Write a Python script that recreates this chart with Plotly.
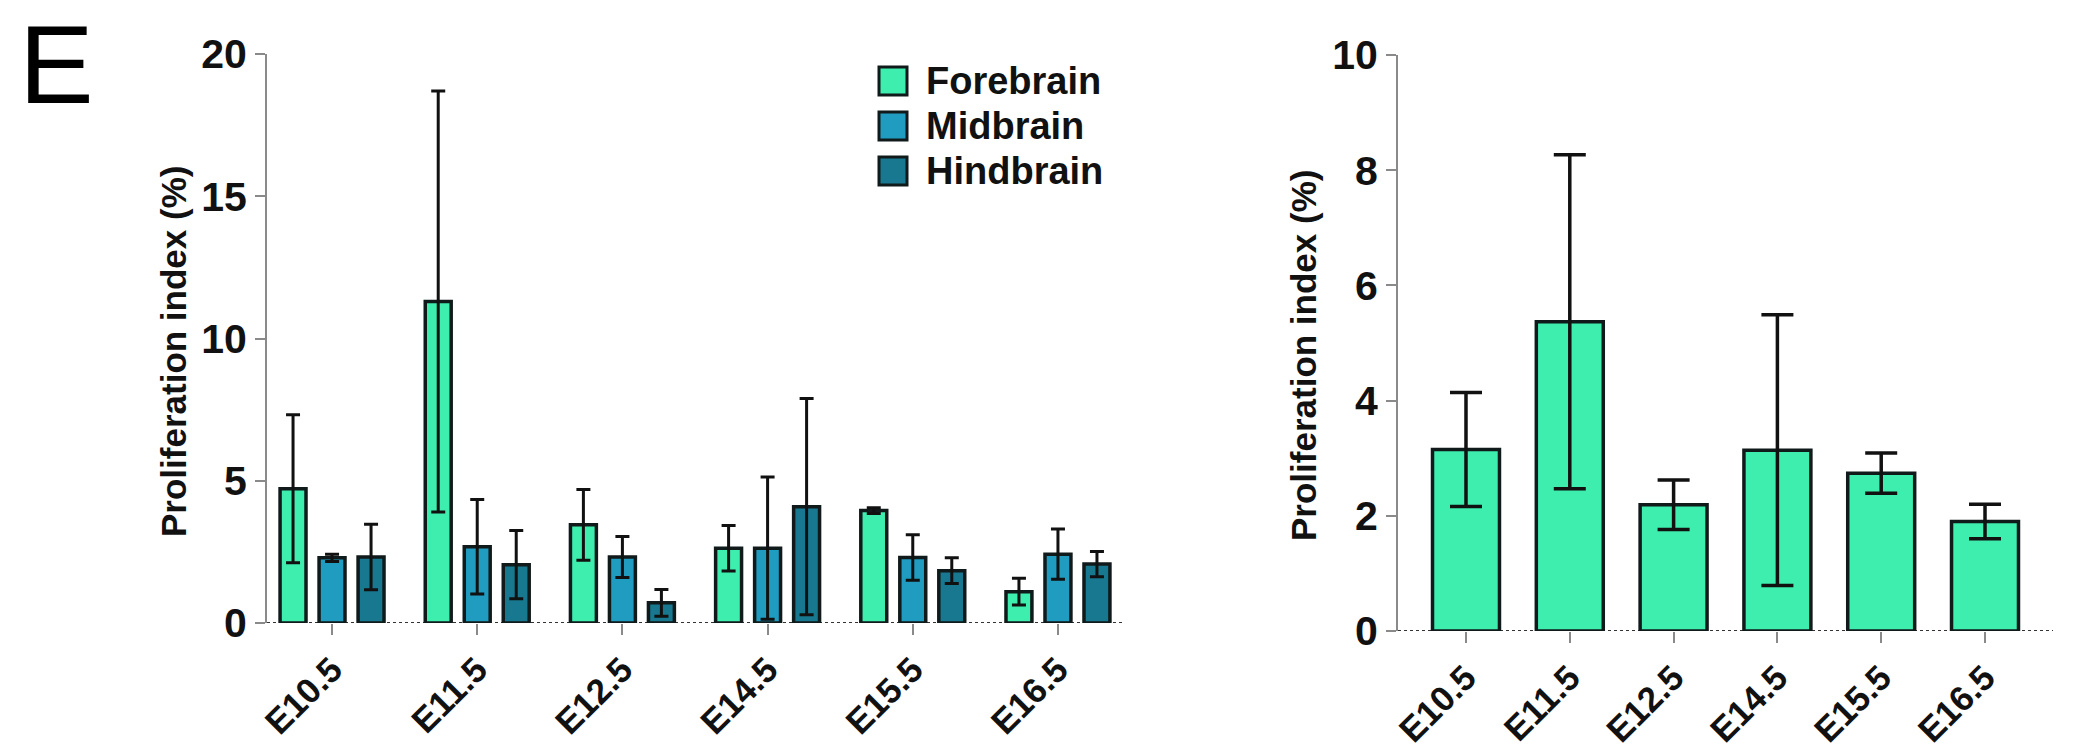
import plotly.graph_objects as go

# ---------------- data ----------------
categories = ["E10.5", "E11.5", "E12.5", "E14.5", "E15.5", "E16.5"]

forebrain = [4.72, 11.3, 3.45, 2.63, 3.95, 1.10]
forebrain_err = [2.6, 7.4, 1.24, 0.8, 0.1, 0.47]
midbrain = [2.29, 2.68, 2.32, 2.63, 2.30, 2.42]
midbrain_err = [0.13, 1.66, 0.72, 2.5, 0.8, 0.88]
hindbrain = [2.32, 2.05, 0.71, 4.09, 1.84, 2.07]
hindbrain_err = [1.15, 1.2, 0.47, 3.8, 0.45, 0.44]

series_names = ["Forebrain", "Midbrain", "Hindbrain"]

total = [3.15, 5.37, 2.19, 3.14, 2.74, 1.90]
total_err = [0.99, 2.9, 0.43, 2.35, 0.35, 0.3]

left_ticks = [0, 5, 10, 15, 20]
right_ticks = [0, 2, 4, 6, 8, 10]

# ---------------- style ----------------
W, H = 2081, 756
colors = ["#3DEEAF", "#1F9CC0", "#17788F"]
outline = "#111a1a"
axis_grey = "#8a8a8a"
FONT = "Liberation Sans, Arial, sans-serif"


def px_x(p):
    return p / W


def px_y(p):
    return (H - p) / H


left_dom_x = [px_x(267), px_x(1123)]
left_dom_y = [px_y(623), px_y(54)]
right_dom_x = [px_x(1398), px_x(2053)]
right_dom_y = [px_y(631), px_y(55)]

fig = go.Figure()

left_data = [(forebrain, forebrain_err), (midbrain, midbrain_err), (hindbrain, hindbrain_err)]
for name, (vals, errs), col in zip(series_names, left_data, colors):
    fig.add_trace(go.Bar(
        x=categories, y=vals, name=name,
        marker=dict(color=col, line=dict(color=outline, width=3.5)),
        error_y=dict(type="data", array=errs, visible=True, color="#111111",
                     thickness=3, width=7),
        xaxis="x", yaxis="y", showlegend=False,
    ))

fig.add_trace(go.Bar(
    x=categories, y=total, name="Total",
    marker=dict(color=colors[0], line=dict(color=outline, width=3.5)),
    error_y=dict(type="data", array=total_err, visible=True, color="#111111",
                 thickness=3.5, width=16),
    width=0.645,
    xaxis="x2", yaxis="y2", showlegend=False,
))

xaxis_common = dict(
    type="category", showline=False, showgrid=False, zeroline=False,
    automargin=False,
    ticks="outside", ticklen=11, tickwidth=2, tickcolor=axis_grey,
    tickangle=-45,
    tickfont=dict(family=FONT, size=35, color="#111111", weight="bold"),
)
yaxis_common = dict(
    showline=True, linecolor=axis_grey, linewidth=2, showgrid=False, zeroline=False,
    automargin=False,
    ticks="outside", ticklen=10, tickwidth=2, tickcolor=axis_grey,
    tickfont=dict(family=FONT, size=41, color="#111111", weight="bold"),
)

fig.update_layout(
    width=W, height=H,
    margin=dict(l=0, r=0, t=0, b=0, autoexpand=False),
    paper_bgcolor="white", plot_bgcolor="white",
    barmode="group", bargap=0.194, bargroupgap=0.335,
    xaxis=dict(domain=left_dom_x, range=[-0.448, 5.448], anchor="y", **xaxis_common),
    yaxis=dict(domain=left_dom_y, range=[0, 20], tickvals=left_ticks, anchor="x", **yaxis_common),
    xaxis2=dict(domain=right_dom_x, range=[-0.655, 5.655], anchor="y2", **xaxis_common),
    yaxis2=dict(domain=right_dom_y, range=[0, 10], tickvals=right_ticks, anchor="x2", **yaxis_common),
)

# dotted baselines at y = 0
for xr, yr in (("x domain", "y"), ("x2 domain", "y2")):
    fig.add_shape(type="line", xref=xr, yref=yr, x0=0, x1=1, y0=0, y1=0,
                  line=dict(color="#333333", width=2, dash="dot"), layer="below")

# axis titles
title_font = dict(family=FONT, size=35, color="#111111", weight="bold")
fig.add_annotation(text="Proliferation index (%)", xref="paper", yref="paper",
                   x=px_x(173), y=px_y(352), textangle=-90, showarrow=False,
                   xanchor="center", yanchor="middle", font=title_font)
fig.add_annotation(text="Proliferation index (%)", xref="paper", yref="paper",
                   x=px_x(1303), y=px_y(356), textangle=-90, showarrow=False,
                   xanchor="center", yanchor="middle", font=title_font)

# panel letter
fig.add_annotation(text="E", xref="paper", yref="paper", x=px_x(17), y=px_y(64),
                   showarrow=False, xanchor="left", yanchor="middle",
                   font=dict(family=FONT, size=112, color="#000000"))

# legend (custom, large square keys)
legend_rows = [81, 126, 171]
for name, col, yc in zip(series_names, colors, legend_rows):
    fig.add_shape(type="rect", xref="paper", yref="paper",
                  x0=px_x(879), x1=px_x(907), y0=px_y(yc + 14), y1=px_y(yc - 14),
                  fillcolor=col, line=dict(color=outline, width=3))
    fig.add_annotation(text=name, xref="paper", yref="paper", x=px_x(924), y=px_y(yc),
                       showarrow=False, xanchor="left", yanchor="middle",
                       font=dict(family=FONT, size=38, color="#111111", weight="bold"))

fig.write_html("out.html")
